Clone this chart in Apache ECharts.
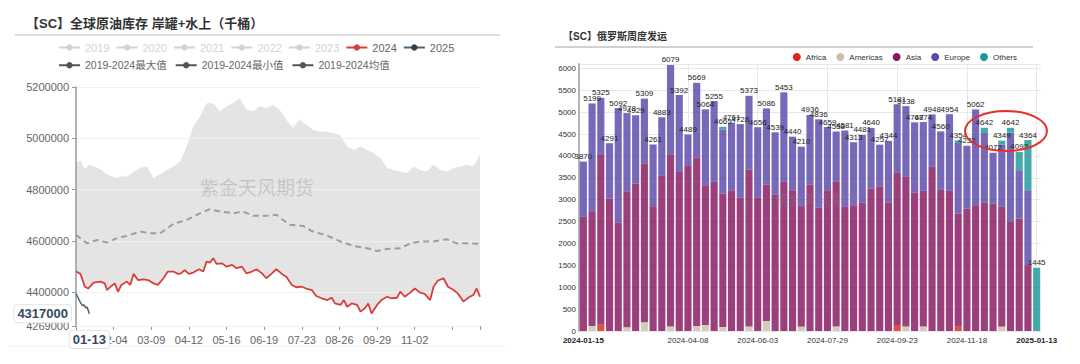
<!DOCTYPE html>
<html>
<head>
<meta charset="utf-8">
<title>SC</title>
<script src="https://cdn.jsdelivr.net/npm/echarts@6/dist/echarts.min.js"></script>
<style>
html,body{margin:0;padding:0;background:#fff;}
#wrap{position:relative;width:1080px;height:364px;}
#stock{position:absolute;left:0;top:0;width:540px;height:364px;}
#ship{position:absolute;left:550px;top:0;width:530px;height:364px;}
</style>
</head>
<body>
<div id="wrap"><div id="stock"></div><div id="ship"></div></div>
<script>
var FONT = "'Liberation Sans', 'Noto Sans CJK SC', sans-serif";

// ===== 左图：全球原油库存 岸罐+水上（千桶），横轴 = 年内第几天（0 = 01-01）=====
var dayTickLabels = ['', '02-04', '03-09', '04-12', '05-16', '06-19', '07-23', '08-26', '09-29', '11-02', ''];

// 2019-2024最大值
var maxDays = [0, 4, 8, 12, 16, 22, 28, 37, 40, 46, 52, 58, 64, 70, 76, 82, 88, 94, 100, 106, 112, 118, 124, 130, 136, 142, 148, 154, 160, 166, 172, 178, 184, 190, 196, 202, 208, 214, 220, 226, 232, 238, 245, 251, 257, 263, 269, 275, 281, 287, 293, 299, 305, 311, 317, 323, 329, 335, 341, 347, 353, 359, 365];
var maxVals = [4903000, 4914000, 4880000, 4897000, 4890000, 4880000, 4860000, 4845000, 4852000, 4851000, 4870000, 4885000, 4890000, 4845000, 4860000, 4877000, 4890000, 4910000, 4968000, 5046000, 5085000, 5137000, 5137000, 5105000, 5125000, 5138000, 5157000, 5111000, 5105000, 5125000, 5118000, 5131000, 5111000, 5072000, 5040000, 5072000, 5053000, 5033000, 5027000, 5027000, 5020000, 5014000, 4968000, 4955000, 4968000, 4955000, 4942000, 4923000, 4884000, 4877000, 4871000, 4864000, 4890000, 4877000, 4871000, 4897000, 4877000, 4871000, 4884000, 4890000, 4897000, 4890000, 4936000];

// 2019-2024均值
var meanDays = [0, 10, 19, 28, 37, 46, 58, 67, 76, 88, 100, 112, 121, 130, 142, 151, 160, 172, 181, 193, 205, 214, 227, 239, 251, 263, 272, 281, 293, 302, 311, 323, 335, 344, 353, 365];
var meanVals = [4624000, 4591000, 4604000, 4594000, 4611000, 4620000, 4637000, 4630000, 4630000, 4667000, 4682000, 4708000, 4724000, 4715000, 4708000, 4715000, 4698000, 4698000, 4702000, 4663000, 4659000, 4637000, 4621000, 4598000, 4581000, 4572000, 4561000, 4569000, 4572000, 4591000, 4598000, 4598000, 4607000, 4591000, 4591000, 4589000];

// 2024
var days2024 = [0, 4, 8, 11, 16, 22, 26, 28, 32, 35, 38, 41, 46, 49, 52, 56, 61, 65, 70, 74, 79, 83, 88, 92, 95, 98, 102, 106, 111, 115, 118, 121, 124, 127, 132, 136, 141, 145, 150, 154, 159, 163, 168, 172, 177, 181, 186, 190, 195, 199, 204, 208, 213, 217, 222, 227, 231, 234, 239, 242, 245, 249, 254, 257, 261, 264, 267, 272, 276, 281, 285, 290, 293, 297, 302, 306, 311, 315, 320, 323, 327, 332, 336, 341, 345, 350, 355, 359, 362, 365];
var vals2024 = [4481000, 4472000, 4422000, 4415000, 4438000, 4442000, 4435000, 4409000, 4425000, 4435000, 4403000, 4429000, 4442000, 4429000, 4472000, 4448000, 4451000, 4448000, 4435000, 4429000, 4455000, 4481000, 4481000, 4472000, 4474000, 4487000, 4472000, 4477000, 4490000, 4481000, 4520000, 4516000, 4533000, 4511000, 4513000, 4500000, 4507000, 4494000, 4500000, 4474000, 4481000, 4490000, 4474000, 4455000, 4474000, 4490000, 4472000, 4461000, 4429000, 4420000, 4422000, 4415000, 4409000, 4386000, 4377000, 4370000, 4379000, 4357000, 4351000, 4370000, 4344000, 4357000, 4351000, 4325000, 4338000, 4357000, 4318000, 4351000, 4370000, 4383000, 4377000, 4379000, 4403000, 4383000, 4399000, 4415000, 4399000, 4394000, 4370000, 4422000, 4446000, 4455000, 4422000, 4409000, 4396000, 4364000, 4381000, 4390000, 4415000, 4383000];

// 2019-2024最小值：图中带状区域下沿与 2024 线重合
var minDays = days2024;
var minVals = vals2024;

// 2025
var days2025 = [0, 2, 4, 6, 7, 9, 10, 11, 12];
var vals2025 = [4395000, 4378000, 4360000, 4348000, 4352000, 4340000, 4343000, 4330000, 4317000];

var latestDay = 12;
var latestLabel = '01-13';
var latestValue = 4317000;

// ===== 右图：俄罗斯周度发运 =====
var weeks = ['2024-01-15', '2024-01-22', '2024-01-29', '2024-02-05', '2024-02-12', '2024-02-19', '2024-02-26', '2024-03-04', '2024-03-11', '2024-03-18', '2024-03-25', '2024-04-01', '2024-04-08', '2024-04-15', '2024-04-22', '2024-04-29', '2024-05-06', '2024-05-13', '2024-05-20', '2024-05-27', '2024-06-03', '2024-06-10', '2024-06-17', '2024-06-24', '2024-07-01', '2024-07-08', '2024-07-15', '2024-07-22', '2024-07-29', '2024-08-05', '2024-08-12', '2024-08-19', '2024-08-26', '2024-09-02', '2024-09-09', '2024-09-16', '2024-09-23', '2024-09-30', '2024-10-07', '2024-10-14', '2024-10-21', '2024-10-28', '2024-11-04', '2024-11-11', '2024-11-18', '2024-11-25', '2024-12-02', '2024-12-09', '2024-12-16', '2024-12-23', '2024-12-30', '2025-01-06', '2025-01-13'];
var africa = [0, 0, 150, 0, 0, 0, 0, 0, 0, 0, 0, 0, 0, 0, 0, 0, 0, 0, 0, 0, 0, 0, 0, 0, 0, 0, 0, 0, 0, 0, 0, 0, 0, 0, 0, 0, 137, 0, 0, 0, 0, 0, 0, 100, 0, 0, 0, 0, 0, 0, 0, 0, 0];
var americas = [0, 114, 0, 0, 0, 84, 0, 198, 0, 0, 100, 0, 0, 114, 137, 0, 91, 0, 0, 100, 0, 228, 0, 0, 0, 100, 0, 0, 0, 100, 0, 0, 0, 0, 0, 0, 0, 100, 0, 100, 0, 0, 0, 0, 0, 0, 0, 0, 100, 0, 0, 0, 0];
var asia = [2607, 2623, 3887, 3027, 2479, 3109, 3369, 3627, 2851, 3543, 3937, 3634, 3786, 3848, 3193, 3406, 3049, 3216, 3041, 3588, 3041, 3118, 3117, 3406, 3216, 2759, 3346, 2813, 3216, 3306, 2836, 2874, 2927, 3254, 3307, 2927, 3474, 3420, 3155, 3101, 3748, 3223, 3201, 2584, 2800, 2874, 2927, 2912, 2736, 2509, 2570, 1505, 0];
var europe = [1263, 2462, 1288, 1264, 2613, 1785, 1560, 1484, 1410, 1340, 2042, 1758, 703, 1707, 1734, 1849, 1465, 1545, 1687, 1685, 1615, 1740, 1422, 2047, 1224, 1351, 1590, 2023, 1443, 1152, 1745, 1439, 1554, 1386, 950, 1417, 1570, 1618, 1613, 1573, 1200, 1337, 1753, 1610, 1432, 2188, 1597, 1160, 1423, 2023, 1102, 1711, 0];
var others = [0, 0, 0, 0, 0, 0, 0, 0, 0, 0, 0, 0, 0, 0, 0, 0, 60, 0, 0, 0, 0, 0, 0, 0, 0, 0, 0, 0, 0, 0, 0, 0, 0, 0, 0, 0, 0, 0, 0, 0, 0, 0, 0, 60, 0, 0, 118, 0, 90, 110, 421, 1148, 1445];
var totals = [3870, 5199, 5325, 4291, 5092, 4978, 4929, 5309, 4261, 4883, 6079, 5392, 4489, 5669, 5064, 5255, 4665, 4761, 4728, 5373, 4656, 5086, 4539, 5453, 4440, 4210, 4936, 4836, 4659, 4558, 4581, 4313, 4481, 4640, 4257, 4344, 5181, 5138, 4768, 4774, 4948, 4560, 4954, 4354, 4232, 5062, 4642, 4072, 4349, 4642, 4093, 4364, 1445];

function pairs(xs, ys) {
    return xs.map(function (x, i) { return [x, ys[i]]; });
}
function plainNumber(v) {
    return String(v);
}

// ---------- 左图 ----------
var stockChart = echarts.init(document.getElementById('stock'), null, {renderer: 'svg'});
var grayLegend = ['2019', '2020', '2021', '2022', '2023'];
var stockSeries = grayLegend.map(function (n) {
    return {name: n, type: 'line', data: [], symbol: 'circle', color: '#ccc'};
});
stockSeries.push({
    name: '2019-2024最大值', type: 'line', data: pairs(maxDays, maxVals),
    symbol: 'circle', showSymbol: false, color: '#555', z: 1,
    lineStyle: {opacity: 0}, areaStyle: {color: '#e4e4e4', opacity: 1, origin: 'start'}
}, {
    name: '2019-2024最小值', type: 'line', data: pairs(minDays, minVals),
    symbol: 'circle', showSymbol: false, color: '#555', z: 1,
    lineStyle: {opacity: 0}, areaStyle: {color: '#fff', opacity: 1, origin: 'start'}
}, {
    name: '2019-2024均值', type: 'line', data: pairs(meanDays, meanVals),
    symbol: 'circle', showSymbol: false, color: '#555',
    lineStyle: {color: '#9d9d9d', width: 2, type: [6, 4]}
}, {
    name: '2024', type: 'line', data: pairs(days2024, vals2024),
    symbol: 'circle', showSymbol: false, color: '#d7403a',
    lineStyle: {width: 1.8}
}, {
    name: '2025', type: 'line', data: pairs(days2025, vals2025),
    symbol: 'circle', showSymbol: false, color: '#2c3e50',
    lineStyle: {width: 1.5, color: '#4d6272'}
});

var pointerLabel = {
    show: true, backgroundColor: '#fff', color: '#34495e', fontWeight: 'bold',
    fontSize: 13, fontFamily: FONT, padding: [2, 3], borderColor: '#e3e3e3', borderWidth: 1
};

stockChart.setOption({
    animation: false,
    textStyle: {fontFamily: FONT},
    title: {
        text: '【SC】全球原油库存 岸罐+水上（千桶）', left: 26, top: 17, padding: 0,
        textStyle: {fontSize: 13, fontWeight: 'bold', color: '#333'}
    },
    axisPointer: {triggerOn: 'none'},
    legend: [{
        data: ['2019', '2020', '2021', '2022', '2023', '2024', '2025'],
        left: 53, top: 37, itemWidth: 21, itemHeight: 8, itemGap: 6,
        inactiveColor: '#d3d3d3',
        textStyle: {fontSize: 11, color: '#666'},
        selected: {'2019': false, '2020': false, '2021': false, '2022': false, '2023': false}
    }, {
        data: ['2019-2024最大值', '2019-2024最小值', '2019-2024均值'],
        left: 53, top: 55, itemWidth: 21, itemHeight: 8, itemGap: 8,
        textStyle: {fontSize: 10.5, color: '#666'},
        itemStyle: {color: '#555', opacity: 1},
        lineStyle: {color: '#555', opacity: 1, width: 2, type: 'solid'}
    }],
    grid: {left: 76, right: 60, top: 87, bottom: 38},
    xAxis: {
        type: 'value', min: 0, max: 365, interval: 34,
        axisLine: {lineStyle: {color: '#999'}},
        axisTick: {show: true, length: 4, lineStyle: {color: '#999'}},
        axisLabel: {
            color: '#666', fontSize: 11, margin: 8,
            formatter: function (v) { return dayTickLabels[v / 34] || ''; }
        },
        splitLine: {show: false},
        axisPointer: {
            show: true, status: 'show', value: latestDay, snap: false, triggerTooltip: false,
            lineStyle: {opacity: 0},
            label: Object.assign({}, pointerLabel, {formatter: function () { return latestLabel; }, margin: 5})
        }
    },
    yAxis: {
        type: 'value', min: 4269000, max: 5200000, z: 3,
        axisLine: {show: true, lineStyle: {color: '#999', width: 1.5}},
        axisTick: {show: true, length: 4, lineStyle: {color: '#999'}},
        axisLabel: {color: '#666', fontSize: 11, margin: 7, formatter: plainNumber},
        splitLine: {lineStyle: {color: '#efefef'}},
        axisPointer: {
            show: true, status: 'show', value: latestValue, snap: false, triggerTooltip: false,
            lineStyle: {opacity: 0},
            label: Object.assign({}, pointerLabel, {formatter: function () { return String(latestValue); }, margin: 5})
        }
    },
    graphic: [
        {type: 'line', shape: {x1: 15, y1: 35, x2: 500, y2: 35}, style: {stroke: '#bdbdbd', lineWidth: 1}},
        {type: 'line', shape: {x1: 8, y1: 346, x2: 505, y2: 346}, style: {stroke: '#eee', lineWidth: 1}},
        {
            type: 'text', left: 200, top: 179, z: 10, silent: true,
            style: {text: '紫金天风期货', fontSize: 19, fill: 'rgba(140,140,140,0.35)', fontFamily: FONT}
        }
    ],
    series: stockSeries
});

// ---------- 右图 ----------
var shipChart = echarts.init(document.getElementById('ship'), null, {renderer: 'svg'});
function barSeries(name, data, color) {
    return {
        name: name, type: 'bar', stack: 'total', data: data, color: color,
        barCategoryGap: '18%', barGap: '-100%',
        itemStyle: {opacity: 0.82}
    };
}
shipChart.setOption({
    animation: false,
    textStyle: {fontFamily: FONT},
    title: {
        text: '【SC】俄罗斯周度发运', left: 13, top: 31, padding: 0,
        textStyle: {fontSize: 10, fontWeight: 'bold', color: '#333'}
    },
    legend: {
        data: ['Africa', 'Americas', 'Asia', 'Europe', 'Others'],
        right: 58, top: 48, icon: 'circle', itemWidth: 8, itemHeight: 8, itemGap: 10,
        textStyle: {fontSize: 8, color: '#333'},
        itemStyle: {opacity: 1}
    },
    grid: {left: 29, right: 39, top: 64, bottom: 33},
    xAxis: {
        type: 'category', data: weeks,
        axisLine: {show: false},
        axisTick: {show: false, alignWithLabel: true},
        axisLabel: {
            color: '#333', fontSize: 8, margin: 5,
            interval: function (i) { return i === 0 || (i % 8 === 4 && i > 4); },
            formatter: function (v, i) {
                return (i === 0 || i === weeks.length - 1) ? '{b|' + v + '}' : v;
            },
            rich: {b: {fontWeight: 'bold', fontSize: 8, color: '#222'}}
        },
        splitLine: {
            show: true, alignWithLabel: true,
            interval: function (i) { return i % 8 === 4 && i > 4; },
            lineStyle: {color: '#e8e8e8'}
        }
    },
    yAxis: {
        type: 'value', min: 0, max: 6100, interval: 500,
        axisLine: {show: true, lineStyle: {color: '#b5b5b5', width: 2}},
        axisTick: {show: false},
        axisLabel: {color: '#333', fontSize: 8, margin: 3, showMaxLabel: false, formatter: plainNumber},
        splitLine: {lineStyle: {color: '#e8e8e8'}}
    },
    graphic: [
        {type: 'line', shape: {x1: 5, y1: 47, x2: 483, y2: 47}, style: {stroke: '#d0d0d0', lineWidth: 2}},
        {
            type: 'text', left: 225, top: 193, z: 10, silent: true,
            style: {text: '紫金天风期货', fontSize: 14, fill: 'rgba(150,150,150,0.25)', fontFamily: FONT}
        },
        {
            type: 'ellipse', z: 20, silent: true,
            shape: {cx: 456, cy: 131, rx: 41, ry: 20},
            style: {fill: 'none', stroke: '#e8302a', lineWidth: 2}
        }
    ],
    series: [
        barSeries('Africa', africa, '#d9261f'),
        barSeries('Americas', americas, '#cbbfa9'),
        barSeries('Asia', asia, '#861660'),
        barSeries('Europe', europe, '#5a47ab'),
        barSeries('Others', others, '#1b9797'),
        {
            name: '合计', type: 'bar', data: totals, barGap: '-100%', barCategoryGap: '18%',
            itemStyle: {color: 'rgba(0,0,0,0)'}, z: 3,
            label: {show: true, position: 'top', distance: 1, fontSize: 8, color: '#222'}
        }
    ]
});
</script>
</body>
</html>
